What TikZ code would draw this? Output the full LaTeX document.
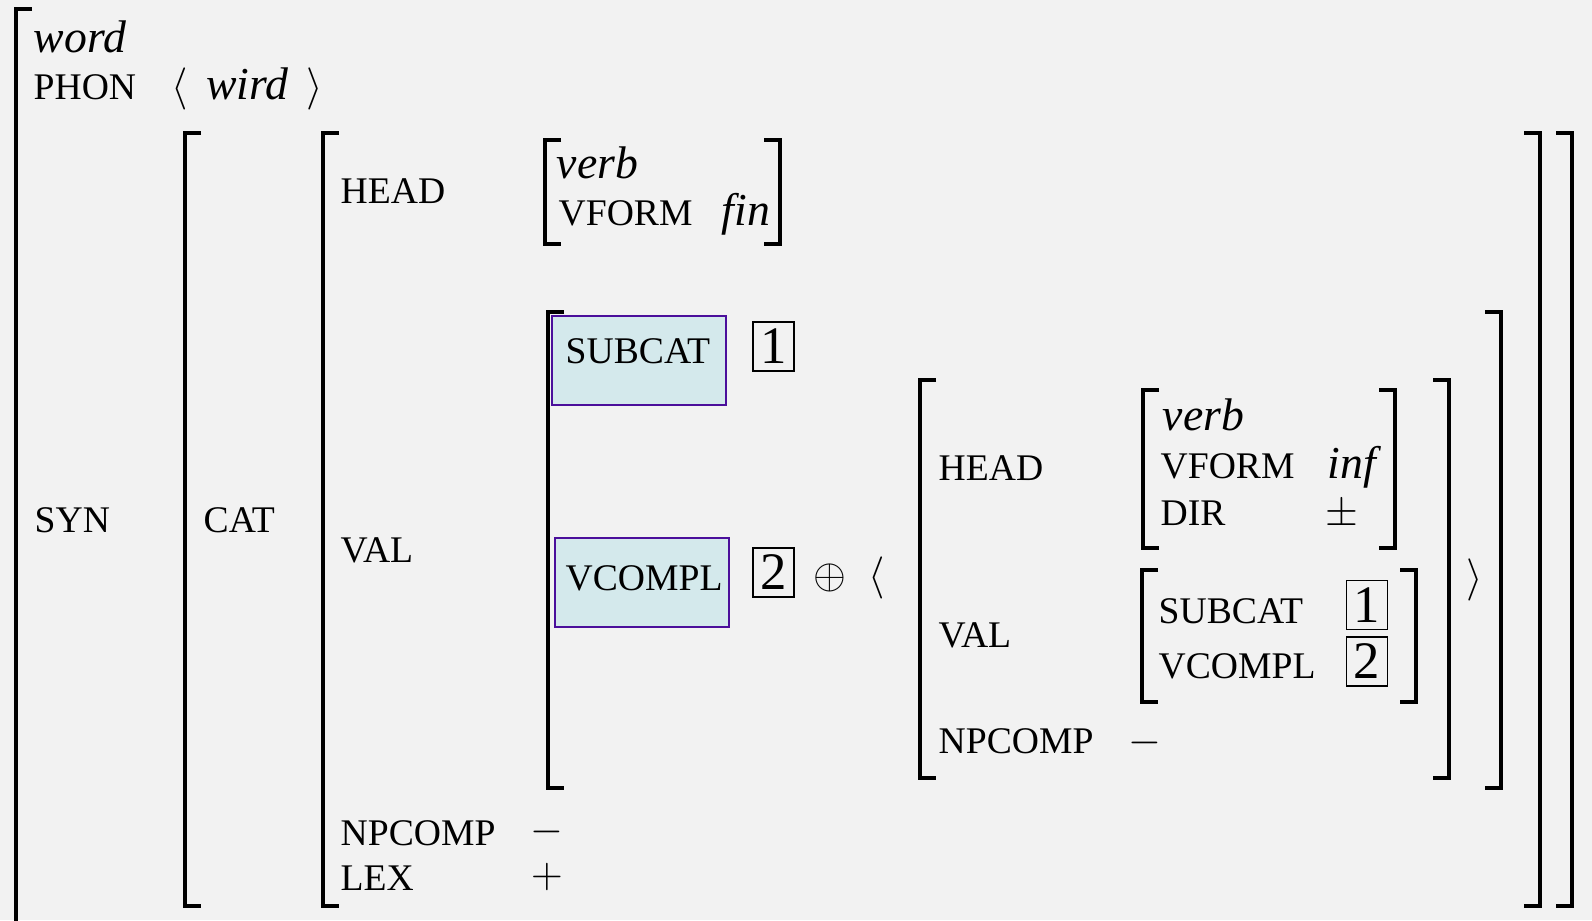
\documentclass[tikz,border=0pt]{standalone}
\usepackage{fontspec}
\setmainfont{Liberation Serif}
\usetikzlibrary{positioning}
\definecolor{mybg}{RGB}{242, 242, 242}
\definecolor{myboxblue}{RGB}{212, 233, 236}
\definecolor{myboxpurple}{RGB}{75, 15, 155}
\newcommand{\feat}[1]{{\fontsize{10.7}{12}\selectfont #1}}

\begin{document}
\begin{tikzpicture}[x=0.01cm, y=-0.01cm, font=\fontsize{13}{15}\selectfont,
  brk/.style={line width=1pt},
  lbl/.style={anchor=base west, inner sep=0pt},
  sym/.style={inner sep=0pt},
  tagbox/.style={draw, line width=0.45pt, minimum width=0.41cm, minimum height=0.49cm, inner sep=0pt, font=\fontsize{15}{15}\selectfont},
  hilite/.style={draw=myboxpurple, fill=myboxblue, line width=0.7pt}]
  % Background
  \fill[mybg] (0,0) rectangle (1592,920);
  \useasboundingbox (0,0) rectangle (1592,920);
  % Brackets, outer to inner
  \draw[brk] (32,9) -- (16,9) -- (16,935);
  \draw[brk] (201,133) -- (185,133) -- (185,906) -- (201,906);
  \draw[brk] (1556,133) -- (1572,133) -- (1572,906) -- (1556,906);
  \draw[brk] (339,133) -- (323,133) -- (323,906) -- (339,906);
  \draw[brk] (1524,133) -- (1540,133) -- (1540,906) -- (1524,906);
  \draw[brk] (561,140) -- (545,140) -- (545,244) -- (561,244);
  \draw[brk] (764,140) -- (780,140) -- (780,244) -- (764,244);
  \draw[brk] (564,312) -- (548,312) -- (548,788) -- (564,788);
  \draw[brk] (1485,312) -- (1501,312) -- (1501,788) -- (1485,788);
  \draw[brk] (936,380) -- (920,380) -- (920,778) -- (936,778);
  \draw[brk] (1433,380) -- (1449,380) -- (1449,778) -- (1433,778);
  \draw[brk] (1159,390) -- (1143,390) -- (1143,548) -- (1159,548);
  \draw[brk] (1379,390) -- (1395,390) -- (1395,548) -- (1379,548);
  \draw[brk] (1158,570) -- (1142,570) -- (1142,702) -- (1158,702);
  \draw[brk] (1400,570) -- (1416,570) -- (1416,702) -- (1400,702);
  % Highlighted features
  \filldraw[hilite] (552,316) rectangle (726,405);
  \filldraw[hilite] (555,538) rectangle (729,627);
  % word
  \node[lbl] (type) at (33,52) {\textit{word}};
  \node[lbl] (phon) at (33,99) {\feat{PHON}};
  \node[lbl] (wird) at (171,99) {$\langle$\hspace{0.18cm}\textit{wird}\hspace{0.18cm}$\rangle$};
  \node[lbl] (syn) at (34,532) {\feat{SYN}};
  \node[lbl] (cat) at (203,532) {\feat{CAT}};
  % CAT matrix
  \node[lbl] (head) at (340,203) {\feat{HEAD}};
  \node[lbl] (headtype) at (556,178) {\textit{verb}};
  \node[lbl] (vform) at (558,225) {\feat{VFORM}};
  \node[lbl] (fin) at (721,225) {\textit{fin}};
  \node[lbl] (val) at (340,562) {\feat{VAL}};
  \node[lbl] (subcat) at (565,363) {\feat{SUBCAT}};
  \node[tagbox] (tagA) at (773.5,346.5) {1};
  \node[lbl] (vcompl) at (565,590) {\feat{VCOMPL}};
  \node[tagbox] (tagB) at (773.5,572.5) {2};
  \node[sym] (plus) at (829.5,578) {$\oplus$};
  \node[sym] (open) at (877,578) {$\langle$};
  \node[sym] (close) at (1475,580) {$\rangle$};
  \node[lbl] (npcomp) at (340,845) {\feat{NPCOMP}};
  \node[sym] (npval) at (547,832) {$-$};
  \node[lbl] (lex) at (340,890) {\feat{LEX}};
  \node[sym] (lexval) at (547,877) {$+$};
  % Embedded verb
  \node[lbl] (ihead) at (938,480) {\feat{HEAD}};
  \node[lbl] (iheadtype) at (1162,430) {\textit{verb}};
  \node[lbl] (ivform) at (1160,478) {\feat{VFORM}};
  \node[lbl] (inf) at (1327,478) {\textit{inf}};
  \node[lbl] (idir) at (1160,525) {\feat{DIR}};
  \node[sym, anchor=base] (dirval) at (1341.5,525) {$\pm$};
  \node[lbl] (ival) at (938,647) {\feat{VAL}};
  \node[lbl] (isubcat) at (1158,623) {\feat{SUBCAT}};
  \node[tagbox] (itagA) at (1367,605) {1};
  \node[lbl] (ivcompl) at (1158,678) {\feat{VCOMPL}};
  \node[tagbox] (itagB) at (1367,661.5) {2};
  \node[lbl] (inpcomp) at (938,753) {\feat{NPCOMP}};
  \node[sym] (inpval) at (1145,743) {$-$};
\end{tikzpicture}
\end{document}
